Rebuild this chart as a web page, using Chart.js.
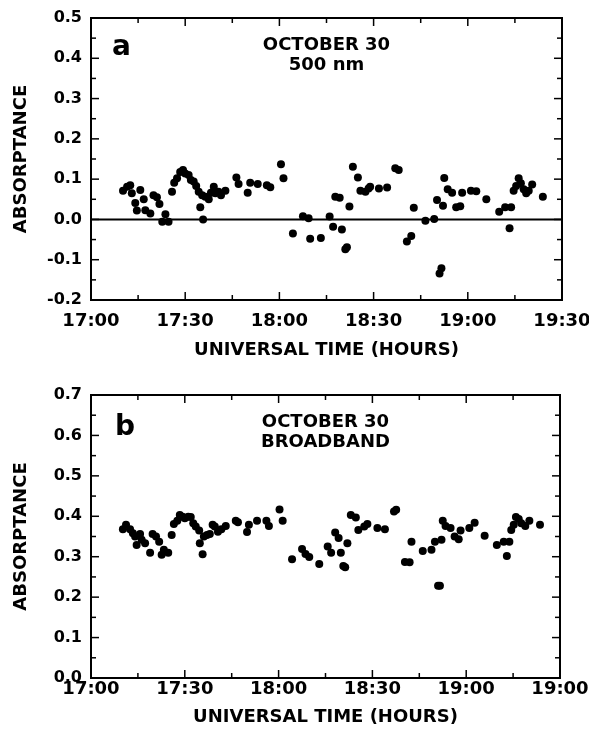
<!DOCTYPE html>
<html>
<head>
<meta charset="utf-8">
<script src="https://cdn.jsdelivr.net/npm/chart.js@4.4.1/dist/chart.umd.min.js"></script>
<style>
  body { margin: 0; background: #fff; }
  #wrap { position: relative; width: 589px; height: 740px; }
  .panel { position: absolute; left: 0; }
  #panelA { top: 0; }
  #panelB { top: 365px; }
</style>
</head>
<body>
<div id="wrap">
  <div class="panel" id="panelA"><canvas id="chartA" width="589" height="365"></canvas></div>
  <div class="panel" id="panelB"><canvas id="chartB" width="589" height="375"></canvas></div>
</div>
<script>
// time is minutes after 17:00 UT
const timeA = [10.2, 11.5, 12.5, 13.0, 14.1, 14.6, 15.7, 16.8, 17.3, 18.9, 19.9, 21.0, 21.8, 22.7, 23.7, 24.7,
  25.8, 26.5, 27.4, 28.4, 29.3, 30.0, 31.1, 31.8, 32.7, 33.5, 34.3, 34.8, 35.4, 35.7, 36.4, 37.5, 38.2, 39.1,
  39.6, 40.6, 41.4, 42.8, 46.3, 47.0, 49.9, 50.7, 53.1, 56.0, 57.1, 60.5, 61.3, 64.3, 67.5, 69.3, 69.8, 73.2,
  76.0, 77.1, 77.8, 79.2, 79.9, 81.0, 81.5, 82.3, 83.4, 85.0, 85.8, 87.4, 88.4, 88.9, 91.7, 94.3, 96.9, 98.0,
  100.6, 102.0, 102.8, 106.5, 109.3, 110.2, 111.0, 111.6, 112.1, 112.5, 113.6, 115.0, 116.3, 117.6, 118.2,
  121.0, 122.7, 125.9, 130.0, 131.9, 133.3, 133.8, 134.6, 135.4, 136.2, 136.9, 137.8, 138.6, 139.4, 140.5, 143.9];
const absA = [0.071, 0.081, 0.085, 0.065, 0.041, 0.022, 0.073, 0.050, 0.023, 0.015, 0.060, 0.055, 0.038, -0.006, 0.013, -0.006,
  0.069, 0.091, 0.102, 0.118, 0.123, 0.114, 0.110, 0.098, 0.094, 0.083, 0.069, 0.030, 0.060, 0.000, 0.056, 0.050, 0.066, 0.081,
  0.065, 0.069, 0.060, 0.071, 0.104, 0.088, 0.066, 0.091, 0.088, 0.085, 0.080, 0.137, 0.102, -0.035, 0.008, 0.003, -0.048, -0.046,
  0.007, -0.018, 0.056, 0.054, -0.025, -0.074, -0.069, 0.032, 0.131, 0.104, 0.071, 0.069, 0.077, 0.081, 0.077, 0.079, 0.127, 0.123,
  -0.055, -0.041, 0.029, -0.003, 0.001, 0.048, -0.134, -0.121, 0.034, 0.103, 0.075, 0.066, 0.030, 0.033, 0.066,
  0.071, 0.070, 0.050, 0.019, 0.030, -0.022, 0.030, 0.071, 0.083, 0.102, 0.090, 0.075, 0.065, 0.071, 0.087, 0.056];

const timeB = [10.2, 11.2, 12.5, 13.4, 14.1, 14.6, 15.7, 16.2, 17.3, 18.9, 19.7, 20.8, 21.8, 22.6, 23.3, 24.7,
  25.8, 26.5, 27.6, 28.4, 29.3, 30.0, 31.1, 31.9, 32.7, 33.5, 34.6, 34.8, 35.7, 36.1, 37.1, 38.0, 38.9, 39.6,
  40.6, 41.7, 43.1, 46.3, 47.0, 49.9, 50.5, 53.1, 56.1, 56.9, 60.3, 61.3, 64.3, 67.5, 68.6, 69.8, 73.0,
  75.7, 76.8, 78.1, 79.2, 79.9, 80.7, 81.3, 82.0, 83.1, 84.7, 85.5, 87.4, 88.4, 91.6, 94.0, 96.9, 97.6,
  100.4, 101.9, 102.5, 106.1, 108.9, 110.0, 111.0, 111.6, 112.1, 112.5, 113.4, 115.0, 116.3, 117.6, 118.2,
  121.0, 122.7, 125.9, 129.8, 132.0, 133.0, 133.8, 134.4, 135.2, 135.9, 136.8, 137.6, 138.9, 140.2, 143.6];
const absB = [0.368, 0.379, 0.368, 0.358, 0.350, 0.329, 0.356, 0.342, 0.333, 0.310, 0.356, 0.350, 0.337, 0.305, 0.317, 0.310,
  0.354, 0.381, 0.389, 0.403, 0.399, 0.395, 0.399, 0.398, 0.383, 0.375, 0.365, 0.333, 0.306, 0.350, 0.354, 0.356, 0.379, 0.375,
  0.362, 0.368, 0.376, 0.389, 0.385, 0.361, 0.379, 0.389, 0.389, 0.376, 0.417, 0.389, 0.294, 0.319, 0.307, 0.299, 0.282,
  0.325, 0.310, 0.360, 0.346, 0.310, 0.277, 0.274, 0.333, 0.403, 0.397, 0.366, 0.375, 0.381, 0.371, 0.368, 0.412, 0.416,
  0.287, 0.286, 0.337, 0.314, 0.317, 0.337, 0.228, 0.228, 0.342, 0.389, 0.376, 0.371, 0.350, 0.343, 0.365,
  0.371, 0.384, 0.352, 0.329, 0.337, 0.302, 0.337, 0.366, 0.379, 0.398, 0.393, 0.383, 0.376, 0.389, 0.379];

// tick labels (the original figure labels the last tick of panel b "19:00")
const xLabelsA = ['17:00', '17:30', '18:00', '18:30', '19:00', '19:30'];
const xLabelsB = ['17:00', '17:30', '18:00', '18:30', '19:00', '19:00'];
const yLabelsA = ['-0.2', '-0.1', '0.0', '0.1', '0.2', '0.3', '0.4', '0.5'];
const yLabelsB = ['0.0', '0.1', '0.2', '0.3', '0.4', '0.5', '0.6', '0.7'];

const FONT = '"DejaVu Sans", "Liberation Sans", sans-serif';

// frame, inward ticks on all four sides, zero line and in-plot labels
const frameTicks = {
  id: 'frameTicks',
  afterDatasetsDraw(chart, args, opts) {
    const { ctx, chartArea: a, scales: { x, y } } = chart;
    const seg = (x1, y1, x2, y2) => { ctx.beginPath(); ctx.moveTo(x1, y1); ctx.lineTo(x2, y2); ctx.stroke(); };
    ctx.save();
    ctx.strokeStyle = '#000';
    ctx.lineWidth = 2;
    if (opts.zeroLine) {
      const py = y.getPixelForValue(0);
      seg(a.left, py, a.right, py);
    }
    ctx.strokeRect(a.left, a.top, a.right - a.left, a.bottom - a.top);
    ctx.lineWidth = 1.5;
    x.ticks.forEach((t, i) => {
      const px = x.getPixelForValue(t.value);
      const len = i % 2 ? 5 : 8;
      seg(px, a.bottom, px, a.bottom - len);
      seg(px, a.top, px, a.top + len);
    });
    y.ticks.forEach((t, i) => {
      const py = y.getPixelForValue(t.value);
      const len = i % 2 ? 5 : 8;
      seg(a.left, py, a.left + len, py);
      seg(a.right, py, a.right - len, py);
    });
    ctx.fillStyle = '#000';
    ctx.textAlign = 'center';
    ctx.textBaseline = 'middle';
    ctx.font = 'bold 18px ' + FONT;
    const cx = (a.left + a.right) / 2;
    opts.lines.forEach((s, k) => ctx.fillText(s, cx, a.top + 27 + k * 20));
    ctx.textAlign = 'left';
    ctx.textBaseline = 'alphabetic';
    ctx.font = 'bold 28px ' + FONT;
    ctx.fillText(opts.letter, a.left + opts.letterX, a.top + opts.letterY);
    ctx.restore();
  }
};

function makePanel(id, times, values, yMin, yMax, xLabels, yLabels, pad, axisH, tickPad, titlePad, extra) {
  const points = times.map((t, i) => ({ x: t, y: values[i] }));
  return new Chart(document.getElementById(id), {
    type: 'scatter',
    data: {
      datasets: [{
        data: points,
        backgroundColor: '#000',
        borderWidth: 0,
        pointRadius: 4,
      }],
    },
    options: {
      responsive: false,
      animation: false,
      layout: { padding: pad },
      plugins: {
        legend: { display: false },
        tooltip: { enabled: false },
        frameTicks: extra,
      },
      scales: {
        x: {
          type: 'linear',
          min: 0,
          max: 150,
          grid: { display: false, drawTicks: false },
          border: { display: false },
          ticks: {
            stepSize: 15,
            autoSkip: false,
            maxRotation: 0,
            padding: tickPad,
            color: '#000',
            font: { family: FONT, size: 18, weight: 'bold' },
            callback: (v, i) => (i % 2 === 0 ? xLabels[i / 2] : ''),
          },
          title: {
            display: true,
            text: 'UNIVERSAL TIME (HOURS)',
            color: '#000',
            font: { family: FONT, size: 18, weight: 'bold', lineHeight: 1.2 },
            padding: { top: 0, bottom: titlePad },
          },
          afterFit: (s) => { s.height = axisH; s.paddingLeft = 0; s.paddingRight = 0; },
        },
        y: {
          min: yMin,
          max: yMax,
          grid: { display: false, drawTicks: false },
          border: { display: false },
          ticks: {
            stepSize: 0.05,
            autoSkip: false,
            padding: 9,
            color: '#000',
            font: { family: FONT, size: 16, weight: 'bold' },
            callback: (v, i) => (i % 2 === 0 ? yLabels[i / 2] : ''),
          },
          title: {
            display: true,
            text: 'ABSORPTANCE',
            color: '#000',
            font: { family: FONT, size: 18, weight: 'bold', lineHeight: 1.2 },
            padding: { top: 11, bottom: 0 },
          },
          afterFit: (s) => { s.width = 91; s.paddingTop = 0; s.paddingBottom = 0; },
        },
      },
    },
    plugins: [frameTicks],
  });
}

makePanel('chartA', timeA, absA, -0.2, 0.5, xLabelsA, yLabelsA,
  { left: 0, right: 27, top: 18, bottom: 0 }, 65, 11, 4,
  { zeroLine: true, lines: ['OCTOBER 30', '500 nm'], letter: 'a', letterX: 21, letterY: 37 });

makePanel('chartB', timeB, absB, 0, 0.7, xLabelsB, yLabelsB,
  { left: 0, right: 29, top: 30, bottom: 0 }, 62, 1, 12,
  { zeroLine: false, lines: ['OCTOBER 30', 'BROADBAND'], letter: 'b', letterX: 24, letterY: 40 });
</script>
</body>
</html>
